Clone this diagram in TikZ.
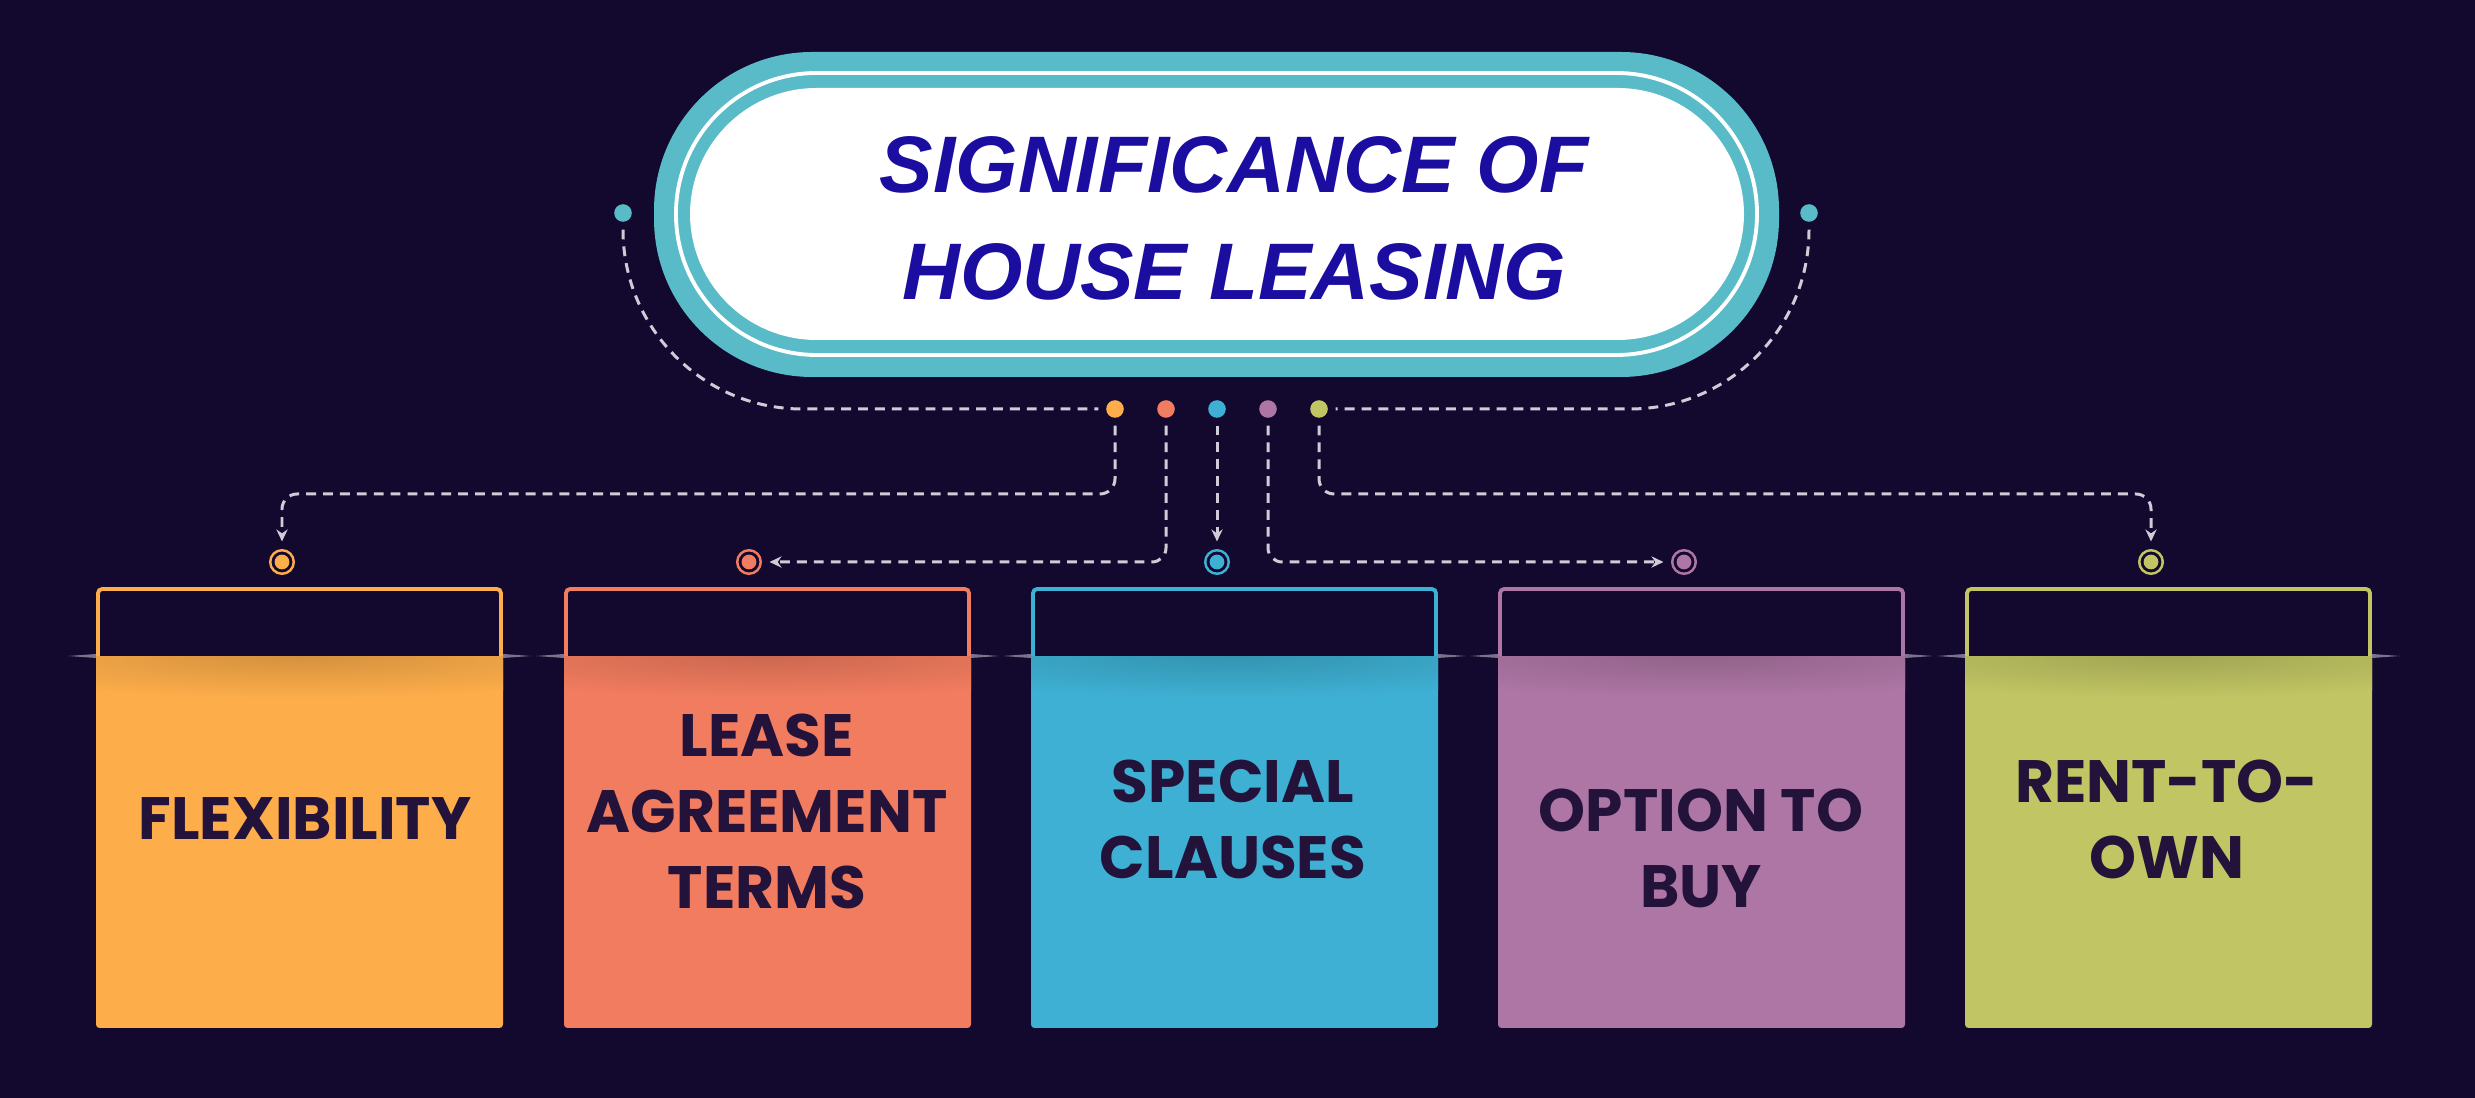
\documentclass[tikz,border=0pt]{standalone}
\usepackage{fontspec}
\usepackage{tikz}
\usetikzlibrary{arrows.meta,positioning,calc}
\newfontfamily\headfont{Liberation Sans}
\newfontfamily\cardfont{Poppins}
\definecolor{bgdark}{RGB}{19,8,46}
\definecolor{pillteal}{RGB}{88,187,199}
\definecolor{titleblue}{RGB}{26,13,160}
\definecolor{cardorange}{RGB}{253,173,74}
\definecolor{cardsalmon}{RGB}{242,124,95}
\definecolor{cardsky}{RGB}{62,176,211}
\definecolor{cardmauve}{RGB}{174,118,165}
\definecolor{cardolive}{RGB}{193,197,99}
\definecolor{dashgray}{RGB}{206,204,214}
\definecolor{cardink}{RGB}{35,19,58}
\definecolor{winggray}{RGB}{120,116,142}
\tikzset{
  link/.style={draw=dashgray,line width=0.85pt,dash pattern=on 2.8pt off 2pt},
  tip/.style={-{Stealth[length=3.4pt,width=3.2pt]}},
  pin/.style={circle,fill=#1,minimum size=5pt,inner sep=0pt,outer sep=2.2pt},
  ring/.style={circle,draw=#1,line width=0.7pt,minimum size=6.7pt,inner sep=0pt,outer sep=2.5pt,
    path picture={\fill[#1] (path picture bounding box.center) circle (2.1pt);}},
  cardtext/.style={font=\cardfont\bfseries\fontsize{17}{21.6}\selectfont,text=cardink,align=center}
}
\newcommand{\cardbox}[2]{%
  \fill[winggray] (#1-28,656) -- (#1,654) -- (#1+407,654) -- (#1+435,656) -- (#1+407,658) -- (#1,658) -- cycle;
  \fill[#2,rounded corners=1pt] (#1,656) rectangle (#1+407,1028);
  \begin{scope}\clip (#1,656) rectangle (#1+407,1028);
  \shade[inner color=#2!84!black,outer color=#2] (#1+203,656) ellipse (360 and 42);
  \end{scope}
  \draw[#2,line width=1.1pt,fill=bgdark,rounded corners=1.2pt] (#1+2,656) |- (#1+405,589) -- (#1+405,656);}

\begin{document}
\begin{tikzpicture}[x=0.01cm,y=-0.01cm]
\fill[bgdark] (0,0) rectangle (2475,1098);
\fill[pillteal,rounded corners=45pt] (654,52) rectangle (1779,377);
\draw[white,line width=1.1pt,rounded corners=40pt] (676,73) rectangle (1757,355);
\fill[white,rounded corners=36pt] (690,88) rectangle (1744,340);
\node (title) at (1234,218) [font=\headfont\bfseries\itshape\fontsize{22.8}{30.4}\selectfont,text=titleblue,align=center] {SIGNIFICANCE OF\\HOUSE LEASING};
\node[pin=pillteal] (sl) at (623,213) {}; \node[pin=pillteal] (sr) at (1809,213) {};
\node[pin=cardorange] (d1) at (1115,409) {}; \node[pin=cardsalmon] (d2) at (1166,409) {}; \node[pin=cardsky] (d3) at (1217,409) {};
\node[pin=cardmauve] (d4) at (1268,409) {}; \node[pin=cardolive] (d5) at (1319,409) {};
\cardbox{96}{cardorange} \cardbox{564}{cardsalmon} \cardbox{1031}{cardsky} \cardbox{1498}{cardmauve} \cardbox{1965}{cardolive}
\node[ring=cardorange] (r1) at (282,562) {}; \node[ring=cardsalmon] (r2) at (749,562) {}; \node[ring=cardsky] (r3) at (1217,562) {};
\node[ring=cardmauve] (r4) at (1684,562) {}; \node[ring=cardolive] (r5) at (2151,562) {};
\node[cardtext] (t1) at (305,819) {FLEXIBILITY};
\node[cardtext] (t2) at (767,811) {LEASE\\AGREEMENT\\TERMS};
\node[cardtext] (t3) at (1233,819) {SPECIAL\\CLAUSES};
\node[cardtext] (t4) at (1701,848) {OPTION TO\\BUY};
\node[cardtext] (t5) at (2167,819) {RENT-TO-\\OWN};
\draw[link,rounded corners=51pt] (sl) |- (d1);
\draw[link,rounded corners=51pt] (sr) |- (d5);
\draw[link,tip,rounded corners=4.3pt] (d1) -- ++(0,85) -| (r1);
\draw[link,tip,rounded corners=4pt] (d2) |- (r2);
\draw[link,tip] (d3) -- (r3);
\draw[link,tip,rounded corners=4pt] (d4) |- (r4);
\draw[link,tip,rounded corners=4.3pt] (d5) -- ++(0,85) -| (r5);
\end{tikzpicture}
\end{document}
